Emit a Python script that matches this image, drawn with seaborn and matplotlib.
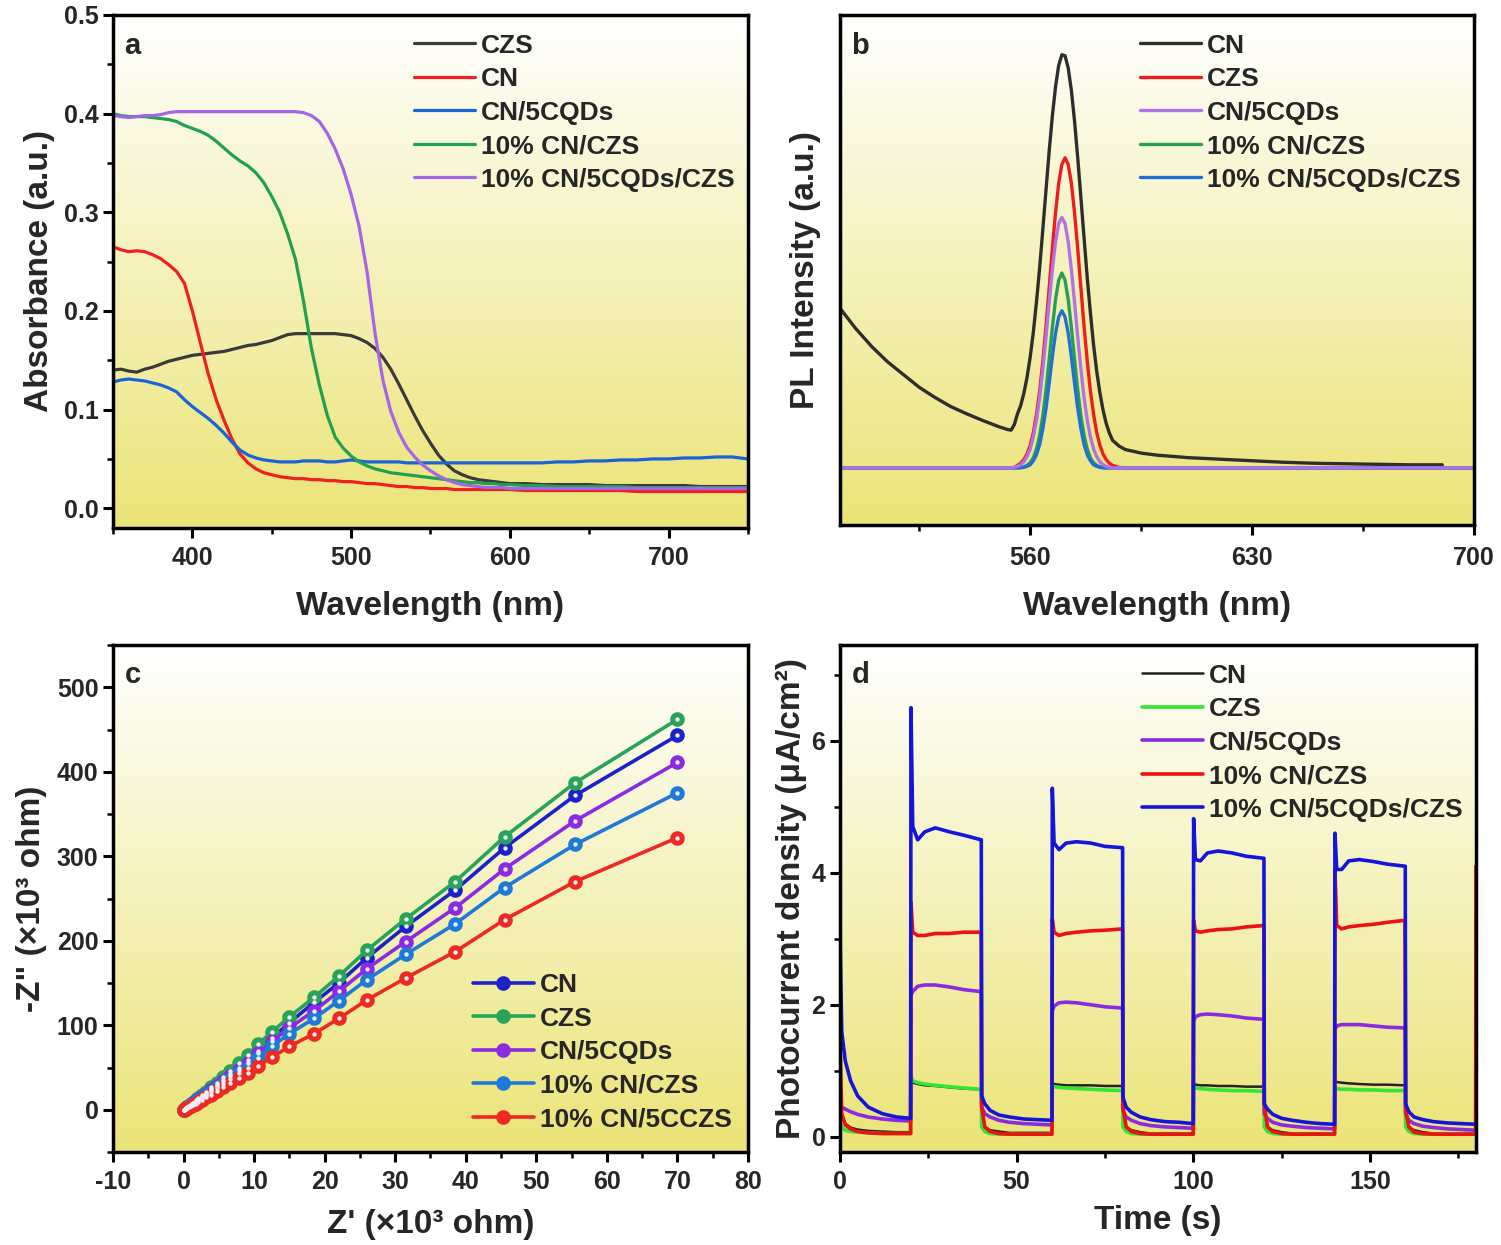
import numpy as np
import matplotlib
matplotlib.use("Agg")
import matplotlib.pyplot as plt
import seaborn as sns
from matplotlib.colors import LinearSegmentedColormap
from matplotlib.ticker import MultipleLocator

sns.set_theme(style="ticks")
plt.rcParams['font.family'] = ['Liberation Sans', 'DejaVu Sans']
plt.rcParams['font.weight'] = 'bold'
plt.rcParams['axes.labelweight'] = 'bold'
plt.rcParams['axes.unicode_minus'] = False

# ---------------- panel a: UV-vis absorbance ----------------
wl_a = [350, 355, 360, 365, 370, 375, 380, 385, 390, 395, 400, 405, 410, 415, 420, 425,
        430, 435, 440, 445, 450, 455, 460, 465, 470, 475, 480, 485, 490, 495, 500, 505,
        510, 515, 520, 525, 530, 535, 540, 545, 550, 555, 560, 565, 570, 575, 580, 585,
        590, 595, 600, 610, 620, 630, 640, 650, 660, 670, 680, 690, 700, 710, 720, 730,
        740, 750]
abs_czs = [0.140, 0.141, 0.139, 0.138, 0.141, 0.143, 0.146, 0.149, 0.151, 0.153, 0.155, 0.156,
           0.157, 0.158, 0.159, 0.161, 0.163, 0.165, 0.166, 0.168, 0.170, 0.173, 0.176, 0.177,
           0.177, 0.177, 0.177, 0.177, 0.177, 0.176, 0.175, 0.172, 0.168, 0.162, 0.153, 0.141,
           0.126, 0.110, 0.094, 0.079, 0.066, 0.054, 0.045, 0.038, 0.034, 0.031, 0.029, 0.028,
           0.027, 0.026, 0.025, 0.025, 0.024, 0.024, 0.024, 0.024, 0.023, 0.023, 0.023, 0.023,
           0.023, 0.023, 0.022, 0.022, 0.022, 0.022]
abs_cn = [0.265, 0.262, 0.260, 0.261, 0.260, 0.257, 0.253, 0.247, 0.240, 0.228, 0.200, 0.168,
          0.136, 0.110, 0.089, 0.070, 0.055, 0.046, 0.040, 0.036, 0.034, 0.032, 0.031, 0.030,
          0.030, 0.029, 0.029, 0.028, 0.028, 0.027, 0.027, 0.026, 0.025, 0.025, 0.024, 0.023,
          0.022, 0.022, 0.021, 0.021, 0.020, 0.020, 0.020, 0.019, 0.019, 0.019, 0.019, 0.019,
          0.019, 0.019, 0.019, 0.018, 0.018, 0.018, 0.018, 0.018, 0.018, 0.018, 0.017, 0.017,
          0.017, 0.017, 0.017, 0.017, 0.017, 0.017]
abs_cn5cqd = [0.128, 0.130, 0.131, 0.130, 0.129, 0.127, 0.125, 0.122, 0.118, 0.110, 0.103, 0.097,
              0.091, 0.084, 0.076, 0.067, 0.059, 0.054, 0.051, 0.049, 0.048, 0.047, 0.047, 0.047,
              0.048, 0.048, 0.048, 0.047, 0.047, 0.048, 0.049, 0.048, 0.047, 0.047, 0.047, 0.047,
              0.047, 0.046, 0.046, 0.046, 0.046, 0.046, 0.046, 0.046, 0.046, 0.046, 0.046, 0.046,
              0.046, 0.046, 0.046, 0.046, 0.046, 0.047, 0.047, 0.048, 0.048, 0.049, 0.049, 0.050,
              0.050, 0.051, 0.051, 0.052, 0.052, 0.050]
abs_cnczs = [0.400, 0.398, 0.397, 0.397, 0.397, 0.396, 0.395, 0.394, 0.392, 0.388, 0.385, 0.382,
             0.378, 0.372, 0.365, 0.358, 0.352, 0.347, 0.340, 0.330, 0.316, 0.300, 0.278, 0.252,
             0.210, 0.162, 0.125, 0.094, 0.072, 0.061, 0.053, 0.047, 0.043, 0.040, 0.038, 0.036,
             0.035, 0.034, 0.033, 0.032, 0.031, 0.030, 0.029, 0.028, 0.027, 0.026, 0.026, 0.025,
             0.025, 0.024, 0.024, 0.023, 0.023, 0.022, 0.022, 0.022, 0.022, 0.022, 0.021, 0.021,
             0.021, 0.021, 0.021, 0.021, 0.021, 0.021]
abs_full = [0.398, 0.397, 0.396, 0.397, 0.398, 0.398, 0.399, 0.401, 0.402, 0.402, 0.402, 0.402,
            0.402, 0.402, 0.402, 0.402, 0.402, 0.402, 0.402, 0.402, 0.402, 0.402, 0.402, 0.402,
            0.401, 0.398, 0.392, 0.380, 0.364, 0.344, 0.318, 0.286, 0.240, 0.178, 0.130, 0.098,
            0.077, 0.062, 0.052, 0.044, 0.038, 0.033, 0.029, 0.026, 0.024, 0.023, 0.022, 0.021,
            0.021, 0.021, 0.020, 0.020, 0.020, 0.020, 0.020, 0.020, 0.020, 0.020, 0.020, 0.020,
            0.020, 0.020, 0.020, 0.020, 0.020, 0.020]

# ---------------- panel b: PL spectra (arbitrary units) ----------------
wl_b = [500, 505, 510, 515, 520, 525, 530, 535, 540, 545, 550, 553, 554, 555,
        556, 557, 558, 559, 560, 561, 562, 563, 564, 565, 566, 567, 568, 569, 570, 571,
        572, 573, 574, 575, 576, 577, 578, 579, 580, 581, 582, 583, 584, 585, 586,
        588, 590, 595, 600, 610, 620, 630, 640, 650, 660, 670, 680, 690, 700]
pl_cn = [0.425, 0.385, 0.350, 0.320, 0.295, 0.270, 0.250, 0.232, 0.218, 0.205, 0.193, 0.187,
         0.186, 0.197,
         0.218, 0.234, 0.258, 0.289, 0.329, 0.378, 0.438, 0.505, 0.580, 0.657, 0.733, 0.802,
         0.859, 0.901, 0.922, 0.920, 0.896, 0.852, 0.792, 0.720, 0.642, 0.563, 0.485, 0.416,
         0.353, 0.301, 0.259, 0.225, 0.199, 0.180, 0.166,
         0.155, 0.148, 0.141, 0.137, 0.132, 0.129, 0.126, 0.123, 0.121, 0.120, 0.119, 0.118,
         0.118, np.nan]
pl_czs = [0.112, 0.112, 0.112, 0.112, 0.112, 0.112, 0.112, 0.112, 0.112, 0.112, 0.112, 0.112,
          0.112, 0.113,
          0.117, 0.121, 0.128, 0.139, 0.156, 0.181, 0.217, 0.263, 0.322, 0.390, 0.465, 0.542,
          0.612, 0.670, 0.707, 0.720, 0.707, 0.670, 0.612, 0.542, 0.465, 0.390, 0.322, 0.263,
          0.217, 0.181, 0.156, 0.139, 0.128, 0.121, 0.117,
          0.113, 0.112, 0.112, 0.112, 0.112, 0.112, 0.112, 0.112, 0.112, 0.112, 0.112, 0.112,
          0.112, 0.112]
pl_cn5cqd = [0.112, 0.112, 0.112, 0.112, 0.112, 0.112, 0.112, 0.112, 0.112, 0.112, 0.112, 0.112,
             0.112, 0.113,
             0.115, 0.118, 0.124, 0.134, 0.149, 0.173, 0.206, 0.250, 0.306, 0.369, 0.437, 0.501,
             0.555, 0.591, 0.603, 0.591, 0.555, 0.501, 0.437, 0.369, 0.306, 0.250, 0.206, 0.173,
             0.149, 0.134, 0.124, 0.118, 0.115, 0.113, 0.112,
             0.112, 0.112, 0.112, 0.112, 0.112, 0.112, 0.112, 0.112, 0.112, 0.112, 0.112, 0.112,
             0.112, 0.112]
pl_cnczs = [0.112, 0.112, 0.112, 0.112, 0.112, 0.112, 0.112, 0.112, 0.112, 0.112, 0.112, 0.112,
            0.112, 0.112,
            0.112, 0.113, 0.114, 0.117, 0.122, 0.132, 0.149, 0.176, 0.214, 0.265, 0.325, 0.387,
            0.442, 0.480, 0.494, 0.480, 0.442, 0.387, 0.325, 0.265, 0.214, 0.176, 0.149, 0.132,
            0.122, 0.117, 0.114, 0.113, 0.112, 0.112, 0.112,
            0.112, 0.112, 0.112, 0.112, 0.112, 0.112, 0.112, 0.112, 0.112, 0.112, 0.112, 0.112,
            0.112, 0.112]
pl_full = [0.112, 0.112, 0.112, 0.112, 0.112, 0.112, 0.112, 0.112, 0.112, 0.112, 0.112, 0.112,
           0.112, 0.112,
           0.112, 0.112, 0.113, 0.115, 0.118, 0.126, 0.138, 0.158, 0.189, 0.229, 0.278, 0.330,
           0.376, 0.408, 0.420, 0.408, 0.376, 0.330, 0.278, 0.229, 0.189, 0.158, 0.138, 0.126,
           0.118, 0.115, 0.113, 0.112, 0.112, 0.112, 0.112,
           0.112, 0.112, 0.112, 0.112, 0.112, 0.112, 0.112, 0.112, 0.112, 0.112, 0.112, 0.112,
           0.112, 0.112]

# ---------------- panel c: Nyquist plots ----------------
z_re = [0.0, 0.15, 0.3, 0.5, 0.75, 1.0, 1.3, 1.7, 2.1, 2.6, 3.2, 3.9, 4.7, 5.6, 6.6, 7.8,
        9.1, 10.6, 12.5, 15.0, 18.5, 22.0, 26.0, 31.5, 38.5, 45.5, 55.5, 70.0]
zim_cn = [0, 0.9, 1.8, 3, 4.4, 5.9, 7.7, 10, 12.5, 15.6, 19.5, 24, 29, 35, 42, 50, 59, 70,
          85, 103, 127, 150, 180, 217, 260, 310, 372, 443]
zim_czs = [0, 1, 2, 3.3, 4.9, 6.5, 8.5, 11, 14, 17.5, 21.5, 26.5, 32, 38.5, 46, 55, 65, 78,
           92, 110, 133, 158, 189, 226, 270, 323, 387, 462]
zim_cn5cqd = [0, 0.9, 1.8, 3, 4.5, 6, 7.8, 10.2, 12.5, 15.6, 19.2, 23.5, 28.5, 34, 40, 47, 55,
              67, 81, 97, 117, 140, 167, 199, 239, 285, 342, 411]
zim_cnczs = [0, 0.8, 1.6, 2.7, 4, 5.4, 7, 9, 11.2, 14, 17.2, 21, 25.5, 30.5, 36, 43, 50, 61,
             75, 90, 108, 129, 154, 184, 220, 263, 314, 375]
zim_full = [0, 0.6, 1.2, 2, 3.1, 4.2, 5.6, 7.3, 9.2, 11.6, 14.5, 18, 22, 26.5, 31.5, 37.5,
            44, 52, 62, 75, 90, 108, 130, 156, 187, 225, 270, 322]

# ---------------- panel d: transient photocurrent ----------------
t_s = [0, 0.5, 1.5, 3, 5, 8, 12, 16, 19.9,
       20, 20.1, 20.6, 22, 24, 27, 31, 35, 39.9,
       40, 40.1, 41, 42.5, 45, 48, 52, 56, 59.9,
       60, 60.1, 60.6, 62, 64, 67, 71, 75, 79.9,
       80, 80.1, 81, 82.5, 85, 88, 92, 96, 99.9,
       100, 100.1, 100.6, 102, 104, 107, 111, 115, 119.9,
       120, 120.1, 121, 122.5, 125, 128, 132, 136, 139.9,
       140, 140.1, 140.6, 142, 144, 147, 151, 155, 159.9,
       160, 160.1, 161, 162.5, 165, 168, 172, 176, 179.9,
       180]
j_cn = [1.10, 0.35, 0.20, 0.14, 0.11, 0.09, 0.08, 0.07, 0.07,
        0.07, 0.88, 0.82, 0.80, 0.78, 0.77, 0.75, 0.73, 0.72,
        0.72, 0.30, 0.15, 0.10, 0.08, 0.06, 0.06, 0.06, 0.06,
        0.06, 0.82, 0.80, 0.79, 0.78, 0.78, 0.78, 0.77, 0.77,
        0.77, 0.30, 0.15, 0.10, 0.07, 0.05, 0.05, 0.05, 0.05,
        0.05, 0.80, 0.79, 0.78, 0.78, 0.77, 0.77, 0.76, 0.76,
        0.76, 0.30, 0.15, 0.10, 0.07, 0.05, 0.05, 0.05, 0.05,
        0.05, 0.85, 0.83, 0.82, 0.81, 0.80, 0.79, 0.79, 0.78,
        0.78, 0.30, 0.15, 0.10, 0.07, 0.05, 0.05, 0.05, 0.05,
        0.05]
j_czs = [0.22, 0.15, 0.10, 0.08, 0.07, 0.06, 0.05, 0.05, 0.05,
         0.05, 0.92, 0.85, 0.82, 0.80, 0.78, 0.76, 0.74, 0.72,
         0.72, 0.15, 0.08, 0.05, 0.04, 0.04, 0.04, 0.04, 0.04,
         0.04, 0.78, 0.76, 0.75, 0.74, 0.73, 0.72, 0.71, 0.70,
         0.70, 0.15, 0.08, 0.05, 0.04, 0.04, 0.04, 0.04, 0.04,
         0.04, 0.75, 0.74, 0.73, 0.72, 0.71, 0.70, 0.70, 0.69,
         0.69, 0.15, 0.08, 0.05, 0.04, 0.04, 0.04, 0.04, 0.04,
         0.04, 0.75, 0.73, 0.72, 0.72, 0.71, 0.71, 0.70, 0.70,
         0.70, 0.15, 0.08, 0.05, 0.04, 0.04, 0.04, 0.04, 0.04,
         0.04]
j_cn5cqd = [0.55, 0.45, 0.42, 0.38, 0.34, 0.30, 0.27, 0.25, 0.24,
            0.24, 2.15, 2.20, 2.28, 2.30, 2.30, 2.27, 2.23, 2.20,
            2.20, 0.45, 0.35, 0.30, 0.25, 0.22, 0.20, 0.19, 0.18,
            0.18, 1.90, 1.98, 2.03, 2.04, 2.03, 2.00, 1.97, 1.95,
            1.95, 0.40, 0.30, 0.25, 0.20, 0.17, 0.15, 0.14, 0.13,
            0.13, 1.75, 1.82, 1.85, 1.86, 1.85, 1.83, 1.80, 1.78,
            1.78, 0.35, 0.28, 0.22, 0.18, 0.16, 0.14, 0.13, 0.12,
            0.12, 1.62, 1.68, 1.70, 1.70, 1.70, 1.68, 1.66, 1.65,
            1.65, 0.35, 0.25, 0.20, 0.16, 0.14, 0.12, 0.11, 0.10,
            0.10]
j_cnczs = [1.45, 0.35, 0.18, 0.12, 0.08, 0.06, 0.05, 0.05, 0.05,
           0.05, 3.55, 3.10, 3.05, 3.05, 3.08, 3.08, 3.10, 3.10,
           2.95, 0.45, 0.15, 0.08, 0.05, 0.04, 0.04, 0.04, 0.04,
           0.04, 3.30, 3.10, 3.05, 3.08, 3.10, 3.12, 3.13, 3.15,
           3.15, 0.45, 0.15, 0.08, 0.05, 0.04, 0.04, 0.04, 0.04,
           0.04, 3.28, 3.12, 3.10, 3.12, 3.14, 3.15, 3.18, 3.20,
           3.20, 0.50, 0.15, 0.08, 0.05, 0.04, 0.04, 0.04, 0.04,
           0.04, 4.05, 3.20, 3.15, 3.18, 3.20, 3.22, 3.25, 3.28,
           2.55, 0.40, 0.15, 0.07, 0.05, 0.04, 0.04, 0.04, 0.04,
           4.10]
j_full = [3.10, 1.60, 1.15, 0.85, 0.62, 0.45, 0.35, 0.30, 0.28,
          0.28, 6.50, 4.70, 4.50, 4.62, 4.68, 4.62, 4.57, 4.50,
          4.50, 0.62, 0.50, 0.40, 0.33, 0.30, 0.27, 0.26, 0.25,
          0.25, 5.28, 4.45, 4.35, 4.45, 4.47, 4.45, 4.40, 4.38,
          4.38, 0.60, 0.45, 0.37, 0.30, 0.26, 0.23, 0.22, 0.20,
          0.20, 4.82, 4.20, 4.18, 4.30, 4.33, 4.30, 4.25, 4.22,
          4.22, 0.50, 0.42, 0.34, 0.28, 0.25, 0.22, 0.20, 0.19,
          0.19, 4.60, 4.05, 4.05, 4.18, 4.20, 4.17, 4.13, 4.10,
          4.10, 0.50, 0.38, 0.30, 0.26, 0.23, 0.21, 0.20, 0.19,
          0.19]

TICK_FS = 18
LABEL_FS = 24
LEG_FS = 19

bg_cmap = LinearSegmentedColormap.from_list("bg", ["#ffffff", "#ebe477"])


def style_axes(ax, letter, xpad=6):
    # white-to-yellow vertical gradient behind the data
    grad = np.linspace(0, 1, 256).reshape(-1, 1)
    ax.imshow(grad, cmap=bg_cmap, aspect='auto', extent=(0, 1, 0, 1),
              transform=ax.transAxes, zorder=0)
    for sp in ax.spines.values():
        sp.set_linewidth(2.5)
        sp.set_color('black')
        sp.set_zorder(5)
    ax.tick_params(which='major', direction='out', length=7, width=2.2,
                   labelsize=TICK_FS, color='black', bottom=True, left=True)
    ax.tick_params(which='minor', direction='out', length=4, width=1.8,
                   color='black', bottom=True, left=True)
    ax.tick_params(axis='x', which='major', pad=xpad)
    ax.tick_params(top=False, right=False, which='both')
    for lab in ax.get_xticklabels() + ax.get_yticklabels():
        lab.set_fontweight('bold')
    ax.text(0.018, 0.94, letter, transform=ax.transAxes, fontsize=21,
            fontweight='bold', va='center', ha='left', zorder=6)
    ax.grid(False)


def add_legend(ax, loc, anchor):
    ax.legend(loc=loc, bbox_to_anchor=anchor, frameon=False, borderaxespad=0,
              handlelength=2.3, handletextpad=0.25, labelspacing=0.36,
              prop={'weight': 'bold', 'size': LEG_FS})


fig = plt.figure(figsize=(15.01, 12.45), dpi=100)
fig.patch.set_facecolor('white')
ax_a = fig.add_axes([0.0753, 0.5759, 0.4230, 0.4121])
ax_b = fig.add_axes([0.5596, 0.5783, 0.4224, 0.4097])
ax_c = fig.add_axes([0.0753, 0.0747, 0.4230, 0.4072])
ax_d = fig.add_axes([0.5596, 0.0747, 0.4237, 0.4072])

# panel a
series_a = [("CZS", abs_czs, "#3a3a3a"), ("CN", abs_cn, "#ee2020"),
            ("CN/5CQDs", abs_cn5cqd, "#1a63d8"), ("10% CN/CZS", abs_cnczs, "#22a050"),
            ("10% CN/5CQDs/CZS", abs_full, "#a565e8")]
for name, vals, col in series_a:
    sns.lineplot(x=wl_a, y=vals, color=col, lw=2.3, label=name, ax=ax_a,
                 estimator=None, sort=False, zorder=3)
ax_a.set_xlim(350, 750)
ax_a.set_ylim(-0.02, 0.5)
ax_a.xaxis.set_major_locator(MultipleLocator(100))
ax_a.xaxis.set_minor_locator(MultipleLocator(50))
ax_a.yaxis.set_major_locator(MultipleLocator(0.1))
ax_a.yaxis.set_minor_locator(MultipleLocator(0.05))
ax_a.set_xlabel("Wavelength (nm)", fontsize=LABEL_FS, fontweight='bold', labelpad=15)
ax_a.set_ylabel("Absorbance (a.u.)", fontsize=LABEL_FS, fontweight='bold', labelpad=6)
style_axes(ax_a, "a")
add_legend(ax_a, 'upper right', (0.996, 0.984))

# panel b (purple drawn on top, as in the original)
series_b = [("CN", pl_cn, "#2e2e2e", 3), ("CZS", pl_czs, "#ee1c1c", 3),
            ("CN/5CQDs", pl_cn5cqd, "#b072ea", 4), ("10% CN/CZS", pl_cnczs, "#26a050", 3),
            ("10% CN/5CQDs/CZS", pl_full, "#1f6fd6", 3)]
for name, vals, col, z in series_b:
    sns.lineplot(x=wl_b, y=vals, color=col, lw=2.4, label=name, ax=ax_b,
                 estimator=None, sort=False, zorder=z)
ax_b.set_xlim(500, 700)
ax_b.set_ylim(0, 1.0)
ax_b.set_xticks([560, 630, 700])
ax_b.set_xticks([525, 595, 665], minor=True)
ax_b.set_yticks([])
ax_b.set_xlabel("Wavelength (nm)", fontsize=LABEL_FS, fontweight='bold', labelpad=15)
ax_b.set_ylabel("PL Intensity (a.u.)", fontsize=LABEL_FS, fontweight='bold', labelpad=14)
style_axes(ax_b, "b", xpad=8)
add_legend(ax_b, 'upper right', (0.996, 0.984))

# panel c
series_c = [("CN", zim_cn, "#1a22c8"), ("CZS", zim_czs, "#27a35a"),
            ("CN/5CQDs", zim_cn5cqd, "#8a2be2"), ("10% CN/CZS", zim_cnczs, "#1e7ad8"),
            ("10% CN/5CCZS", zim_full, "#ec2a22")]
for name, vals, col in series_c:
    sns.lineplot(x=z_re, y=vals, color=col, lw=2.6, label=name, ax=ax_c,
                 estimator=None, sort=False, marker='o', markersize=9,
                 markerfacecolor=col, markeredgecolor=col, markeredgewidth=1.5,
                 zorder=3)
    sns.scatterplot(x=z_re, y=vals, color='#f3eef6', s=10, linewidth=0, ax=ax_c,
                    zorder=4, legend=False)
ax_c.set_xlim(-10, 80)
ax_c.set_ylim(-50, 550)
ax_c.xaxis.set_major_locator(MultipleLocator(10))
ax_c.xaxis.set_minor_locator(MultipleLocator(5))
ax_c.yaxis.set_minor_locator(MultipleLocator(50))
ax_c.set_yticks([0, 100, 200, 300, 400, 500])
ax_c.set_xlabel("Z' (×10³ ohm)", fontsize=LABEL_FS, fontweight='bold', labelpad=11)
ax_c.set_ylabel('-Z" (×10³ ohm)', fontsize=LABEL_FS, fontweight='bold', labelpad=7)
style_axes(ax_c, "c")
add_legend(ax_c, 'lower right', (0.9915, 0.0205))

# panel d
series_d = [("CN", j_cn, "#222222", 1.8), ("CZS", j_czs, "#33e633", 2.6),
            ("CN/5CQDs", j_cn5cqd, "#8a2be2", 2.6), ("10% CN/CZS", j_cnczs, "#ee1111", 2.6),
            ("10% CN/5CQDs/CZS", j_full, "#1414dc", 2.6)]
for name, vals, col, lw in series_d:
    sns.lineplot(x=t_s, y=vals, color=col, lw=lw, label=name, ax=ax_d,
                 estimator=None, sort=False, zorder=3)
ax_d.set_xlim(0, 180)
ax_d.set_ylim(-0.23, 7.45)
ax_d.xaxis.set_major_locator(MultipleLocator(50))
ax_d.xaxis.set_minor_locator(MultipleLocator(25))
ax_d.yaxis.set_major_locator(MultipleLocator(2))
ax_d.yaxis.set_minor_locator(MultipleLocator(1))
ax_d.set_xlabel("Time (s)", fontsize=LABEL_FS, fontweight='bold', labelpad=8)
ax_d.set_ylabel("Photocurrent density (μA/cm²)", fontsize=LABEL_FS, fontweight='bold',
                labelpad=3)
style_axes(ax_d, "d")
add_legend(ax_d, 'upper right', (0.996, 0.984))

fig.savefig("out.png", dpi=100, facecolor='white')
